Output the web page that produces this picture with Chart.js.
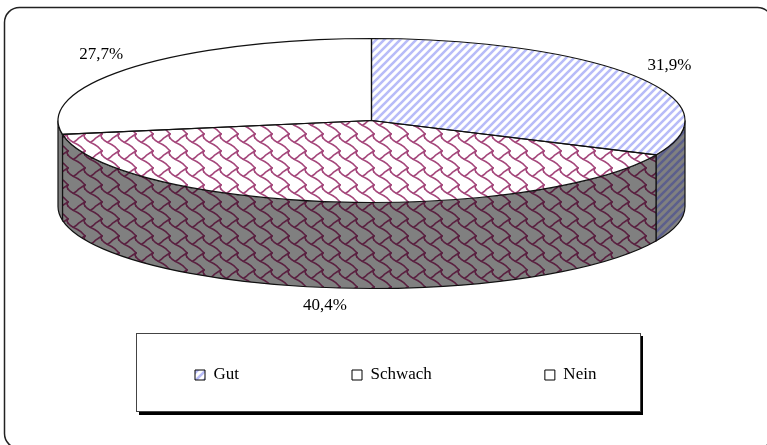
<!DOCTYPE html>
<html>
<head>
<meta charset="utf-8">
<style>
  html, body { margin: 0; padding: 0; background: #fff; }
  canvas { display: block; }
</style>
<script src="https://cdn.jsdelivr.net/npm/chart.js@4"></script>
</head>
<body>
<canvas id="pie" width="767" height="445"></canvas>
<script>
'use strict';

// ── Data ─────────────────────────────────────────────────────────
const categories = ['Gut', 'Schwach', 'Nein'];
const shares = [31.9, 40.4, 27.7];

// ── Look ─────────────────────────────────────────────────────────
const FONT = { family: '"Liberation Serif", "Times New Roman", serif', size: 17 };
const RX = 313.5;
const RY = 82;
const CY = 121;
const DEPTH = 86;
const SQUASH = RY / RX;

// shingle hatch traced on an 8x8 grid: seam, rung and the little link between tiles
const SHINGLE_PATHS = [
  [[0, 1], [1, 2], [2.5, 3], [4.5, 4], [6, 5], [7, 6], [8, 7]],
  [[2.5, 3], [4, 2], [5, 1], [6.5, 0], [8, -1]],
  [[8, 7], [7.5, 8], [8, 9]],
];
const SHINGLE_UNIT = 2.125;

function shingle(bg, ink) {
  const size = 8 * SHINGLE_UNIT;
  const c = document.createElement('canvas');
  c.width = size;
  c.height = size;
  const g = c.getContext('2d');
  g.fillStyle = bg;
  g.fillRect(0, 0, size, size);
  g.strokeStyle = ink;
  g.lineWidth = 1.6;
  g.lineCap = 'round';
  g.lineJoin = 'round';
  // neighbouring copies too, so the strokes wrap over the tile edge
  for (let ox = -size; ox <= size; ox += size) {
    for (let oy = -size; oy <= size; oy += size) {
      SHINGLE_PATHS.forEach((path) => {
        g.beginPath();
        path.forEach(([x, y], i) => {
          const px = ox + x * SHINGLE_UNIT;
          const py = oy + y * SHINGLE_UNIT;
          if (i === 0) g.moveTo(px, py);
          else g.lineTo(px, py);
        });
        g.stroke();
      });
    }
  }
  return g.createPattern(c, 'repeat');
}

function stripes(bg, ink) {
  const c = document.createElement('canvas');
  c.width = 8;
  c.height = 8;
  const g = c.getContext('2d');
  g.fillStyle = bg;
  g.fillRect(0, 0, 8, 8);
  g.strokeStyle = ink;
  g.lineWidth = 2.6;
  g.lineCap = 'round';
  for (let i = -1; i <= 1; i++) {
    g.beginPath();
    g.moveTo(i * 8 - 1, 9);
    g.lineTo(i * 8 + 9, -1);
    g.stroke();
  }
  return g.createPattern(c, 'repeat');
}

function flat(pattern) {
  // the dataset is drawn squashed, undo that for the pattern so it stays square
  pattern.setTransform(new DOMMatrix().translate(0, CY).scale(1, 1 / SQUASH).translate(0, -CY));
  return pattern;
}

const topFills = [
  flat(stripes('#ffffff', '#b8bcf8')),
  flat(shingle('#ffffff', '#a4467a')),
  '#ffffff',
];
const sideFills = [
  stripes('#808080', '#5c5f8c'),
  shingle('#808080', '#5a2040'),
  '#808080',
];
const legendFills = [stripes('#ffffff', '#b8bcf8'), '#ffffff', '#ffffff'];

// ── Plugins ──────────────────────────────────────────────────────
function roundedFrame(ctx) {
  ctx.save();
  ctx.fillStyle = '#ffffff';
  ctx.fillRect(0, 0, 767, 445);
  ctx.strokeStyle = '#222222';
  ctx.lineWidth = 1.5;
  ctx.beginPath();
  ctx.roundRect(4.5, 7.5, 768, 441, 15);
  ctx.stroke();
  ctx.restore();
}

function legendBox(ctx) {
  ctx.save();
  ctx.fillStyle = '#000000';
  ctx.fillRect(139, 336, 504, 79);
  ctx.fillStyle = '#ffffff';
  ctx.fillRect(136, 333, 505, 79);
  ctx.strokeStyle = '#444444';
  ctx.lineWidth = 1;
  ctx.strokeRect(136.5, 333.5, 504, 78);
  ctx.restore();
}

function sideWalls(ctx, arcs) {
  arcs.forEach((arc, i) => {
    // only the part of the rim facing the viewer, canvas angles 0..PI
    const a = Math.max(arc.startAngle, 0);
    const b = Math.min(arc.endAngle, Math.PI);
    if (a >= b) return;
    ctx.beginPath();
    ctx.ellipse(arc.x, arc.y, RX, RY, 0, a, b);
    ctx.ellipse(arc.x, arc.y + DEPTH, RX, RY, 0, b, a, true);
    ctx.closePath();
    ctx.fillStyle = sideFills[i];
    ctx.fill();
    ctx.strokeStyle = '#111111';
    ctx.lineWidth = 1.2;
    ctx.stroke();
  });
}

function topOutlines(ctx, arcs) {
  ctx.strokeStyle = '#111111';
  ctx.lineWidth = 1.2;
  arcs.forEach((arc) => {
    ctx.beginPath();
    ctx.moveTo(arc.x, arc.y);
    ctx.ellipse(arc.x, arc.y, RX, RY, 0, arc.startAngle, arc.endAngle);
    ctx.closePath();
    ctx.stroke();
  });
}

function percentLabels(ctx, arcs) {
  ctx.fillStyle = '#000000';
  ctx.font = `${FONT.size}px ${FONT.family}`;
  ctx.textAlign = 'center';
  ctx.textBaseline = 'middle';
  arcs.forEach((arc, i) => {
    const mid = (arc.startAngle + arc.endAngle) / 2;
    const sin = Math.sin(mid);
    const x = arc.x + Math.cos(mid) * (RX + 40);
    const y = arc.y + sin * (RY + 20) + (sin > 0 ? DEPTH - 2 : 0);
    ctx.fillText(shares[i].toFixed(1).replace('.', ',') + '%', x, y);
  });
}

const squashedPie = {
  id: 'squashedPie',
  beforeDraw(chart) {
    roundedFrame(chart.ctx);
    legendBox(chart.ctx);
  },
  afterLayout(chart) {
    const legend = chart.legend;
    const gap = legend.options.labels.padding;
    legend.left = 0;
    legend.right = 2 * 195 - gap + legend.lineWidths[0];
    legend.top = 375 - FONT.size / 2 - gap;
    legend.bottom = 425;
  },
  beforeDatasetDraw(chart, args) {
    const ctx = chart.ctx;
    const arcs = chart.getDatasetMeta(args.index).data;
    sideWalls(ctx, arcs);
    ctx.save();
    ctx.translate(0, CY);
    ctx.scale(1, SQUASH);
    ctx.translate(0, -CY);
  },
  afterDatasetDraw(chart, args) {
    const ctx = chart.ctx;
    const arcs = chart.getDatasetMeta(args.index).data;
    ctx.restore();
    ctx.save();
    topOutlines(ctx, arcs);
    percentLabels(ctx, arcs);
    ctx.restore();
  },
};

// ── Chart ────────────────────────────────────────────────────────
new Chart(document.getElementById('pie').getContext('2d'), {
  type: 'pie',
  plugins: [squashedPie],
  data: {
    labels: categories,
    datasets: [{
      data: shares,
      backgroundColor: topFills,
      borderWidth: 0,
      radius: RX,
    }],
  },
  options: {
    responsive: false,
    animation: false,
    layout: { padding: { left: 0, right: 24, top: 0, bottom: 445 - 2 * CY } },
    plugins: {
      tooltip: { enabled: false },
      legend: {
        position: 'bottom',
        maxHeight: 1,
        labels: {
          color: '#000000',
          font: FONT,
          boxWidth: 10,
          boxHeight: 10,
          padding: 113,
          generateLabels: () => categories.map((name, i) => ({
            text: name,
            fillStyle: legendFills[i],
            strokeStyle: '#000000',
            lineWidth: 1,
            index: i,
          })),
        },
      },
    },
  },
});
</script>
</body>
</html>
